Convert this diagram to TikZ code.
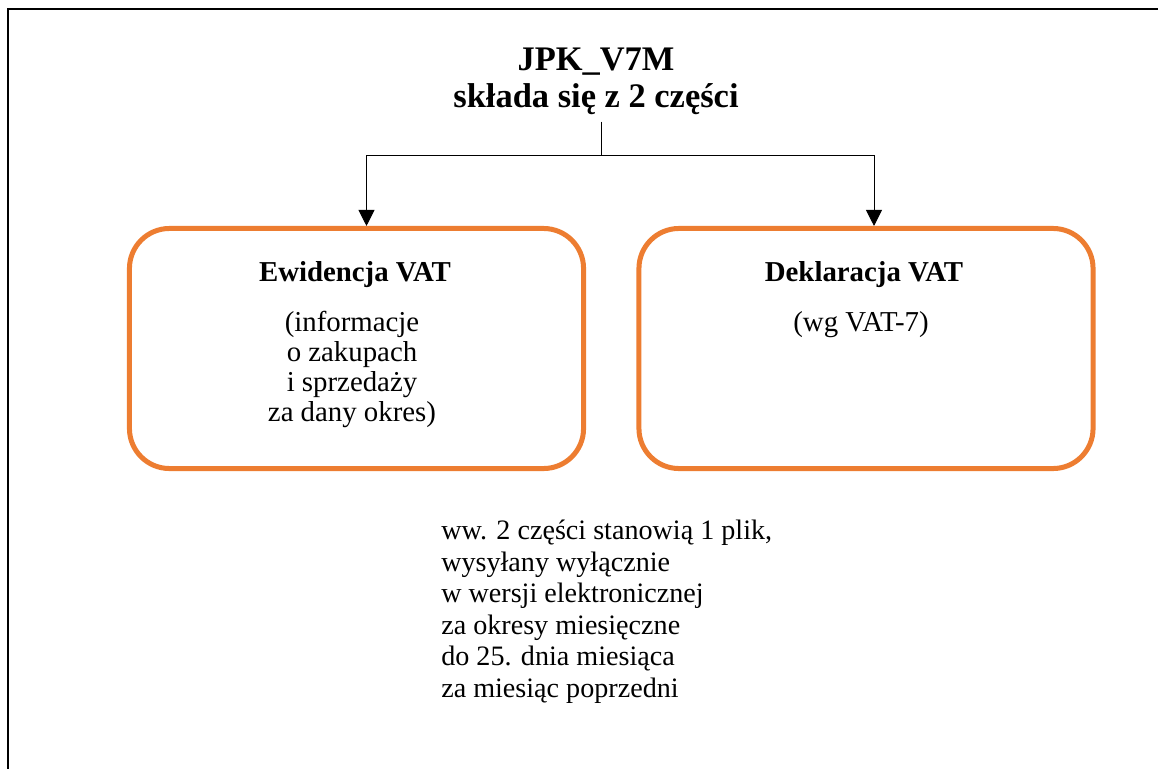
\documentclass[tikz,border=0pt]{standalone}
\usepackage{fontspec}
\setmainfont{Liberation Serif}
\usetikzlibrary{arrows.meta,calc}
\definecolor{vatorange}{HTML}{ED7D31}
\tikzset{
	part/.style={
		rectangle,
		rounded corners=1cm,
		draw=vatorange,
		line width=0.125cm,
		minimum width=11.35cm,
		minimum height=6cm,
		inner sep=0pt,
	},
	title/.style={
		font=\bfseries\fontsize{24.5}{26.3}\selectfont,
		align=center,
		anchor=base,
		inner sep=0pt,
	},
	head/.style={
		font=\bfseries\fontsize{20.5}{24}\selectfont,
		anchor=base,
	},
	body/.style={
		font=\fontsize{20.5}{21.3}\selectfont,
		align=center,
		anchor=base,
	},
	note/.style={
		font=\fontsize{20}{22.4}\selectfont,
		align=left,
		anchor=base west,
		inner sep=0pt,
	},
	link/.style={
		line width=0.7pt,
	},
	frame/.style={
		line width=1.1pt,
	},
}

\begin{document}
\begin{tikzpicture}[x=0.025cm,y=-0.025cm,>={Triangle[width=0.4cm,length=0.4cm]}]
		\useasboundingbox (0,0) rectangle (1158,769);
		\draw[frame] (1158,9) -- (8,9) -- (8,769);
		
		% multi-line nodes sit on the baseline of their last line
		\node [title] (jpk) at (596,107) {JPK\_V7M\\składa się z 2 części};
		\coordinate (split) at (601,155);
		
		\node [part] (ewid) at (356.5,348.5) {};
		\node [part] (dekl) at (866,348.5) {};
		
		\node [head] (ewidhead) at (355,281) {Ewidencja VAT};
		\node [body] (ewidbody) at (352,421) {(informacje\\o zakupach\\i sprzedaży\\za dany okres)};
		\node [head] (deklhead) at (864,281) {Deklaracja VAT};
		\node [body] (deklbody) at (861,331) {(wg VAT-7)};
		
		\draw[link] ([yshift=-5]jpk.south -| split) -- (split);
		\draw[link,->] (split) -| ($(ewid.north)+(10,0)$);
		\draw[link,->] (split) -| ($(dekl.north)+(8,0)$);
		
		\node [note] (info) at (441,697) {ww. 2 części stanowią 1 plik,\\wysyłany wyłącznie\\w wersji elektronicznej\\za okresy miesięczne\\do 25. dnia miesiąca\\za miesiąc poprzedni};
	\end{tikzpicture}
\end{document}
